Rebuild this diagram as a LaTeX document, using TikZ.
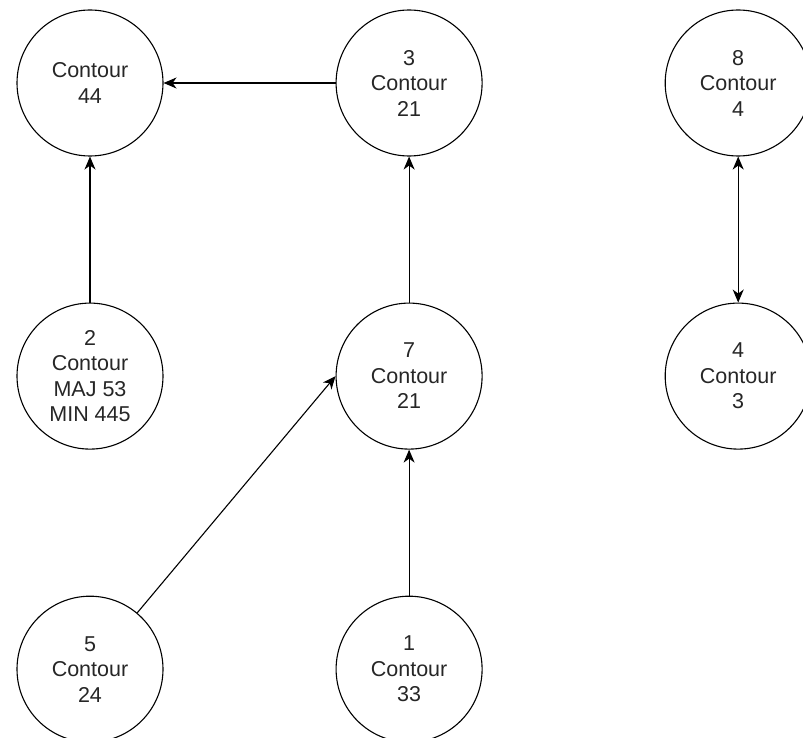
\documentclass[tikz,border=0pt]{standalone}
\usepackage{fontspec}
\setmainfont{Liberation Sans}
\usetikzlibrary{positioning,arrows.meta}

\begin{document}
\begin{tikzpicture}[
      x=1pt, y=1pt,
      node distance=146pt and 172pt,
      >={Stealth[length=13pt,width=11pt,inset=4pt]},
      contour/.style={
        circle, draw, line width=1.1pt,
        minimum size=146pt, inner sep=0pt,
        align=center, text=black!85,
        font=\fontsize{21.5}{25.5}\selectfont
      },
      link/.style={->, line width=1.1pt}
    ]
    \useasboundingbox (0,0) rectangle (803,-738);

    % top row
    \node[contour] (c44) at (90,-83) {Contour\\44};
    \node[contour, right=of c44] (c3) {3\\Contour\\21};
    \node[contour, right=182pt of c3] (c8) {8\\Contour\\4};

    % middle row
    \node[contour, below=of c44] (c2) {2\\Contour\\MAJ 53\\MIN 445};
    \node[contour, below=of c3] (c7) {7\\Contour\\21};
    \node[contour, below=of c8] (c4) {4\\Contour\\3};

    % bottom row
    \node[contour, below=of c2] (c5) {5\\Contour\\24};
    \node[contour, below=of c7] (c1) {1\\Contour\\33};

    \draw[link] (c3) -- (c44);
    \draw[link] (c2) -- (c44);
    \draw[link] (c7) -- (c3);
    \draw[link] (c1) -- (c7);
    \draw[link] (c5) -- (c7.west);
    \draw[link, <->] (c8) -- (c4);
\end{tikzpicture}
\end{document}
